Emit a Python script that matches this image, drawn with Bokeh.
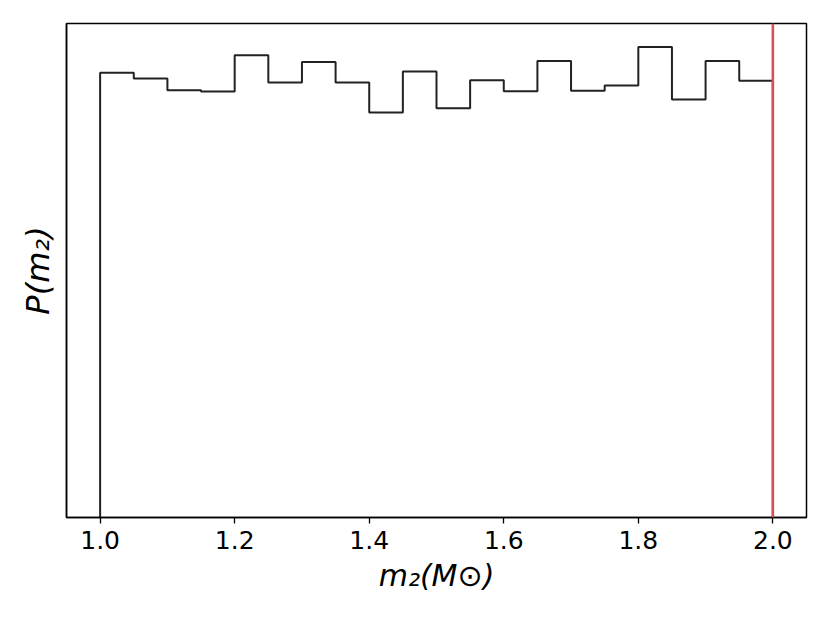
import numpy as np
from bokeh.plotting import figure
from bokeh.models import Range1d, FixedTicker, Span
from bokeh.embed import file_html
from bokeh.resources import INLINE

# Bin edges (m2 in solar masses) and normalised histogram heights
bin_edges = [1.00, 1.05, 1.10, 1.15, 1.20, 1.25, 1.30, 1.35, 1.40, 1.45, 1.50,
             1.55, 1.60, 1.65, 1.70, 1.75, 1.80, 1.85, 1.90, 1.95, 2.00]
density = [1.017, 1.004, 0.977, 0.974, 1.057, 0.995, 1.042, 0.995, 0.926, 1.020,
           0.936, 1.000, 0.975, 1.044, 0.976, 0.988, 1.076, 0.956, 1.044, 0.999]
max_mass = 2.0
x_ticks = [1.0, 1.2, 1.4, 1.6, 1.8, 2.0]

edges = np.array(bin_edges)
h = np.array(density)
xs = np.repeat(edges, 2)
ys = np.concatenate([[0.0], np.repeat(h, 2), [0.0]])

p = figure(width=814, height=607, output_backend="svg", toolbar_location=None,
           x_range=Range1d(0.95, 2.05), y_range=Range1d(0, h.max() * 1.05),
           min_border_left=66, min_border_right=8, min_border_top=23,
           min_border_bottom=90)
p.background_fill_color = "white"
p.border_fill_color = "white"
p.outline_line_color = "black"
p.outline_line_width = 1.5
p.xgrid.visible = False
p.ygrid.visible = False

p.line(xs, ys, line_color="#222222", line_width=2.0)
p.add_layout(Span(location=max_mass, dimension="height", line_color="#d6505b",
                  line_width=2.6))

font = "DejaVu Sans"
p.xaxis.ticker = FixedTicker(ticks=x_ticks)
p.xaxis.major_label_overrides = {t: f"{t:.1f}" for t in x_ticks}
p.xaxis.major_tick_out = 6
p.xaxis.major_tick_in = 0
p.xaxis.minor_tick_out = 0
p.xaxis.minor_tick_in = 0
p.xaxis.major_tick_line_width = 1.3
p.xaxis.axis_line_width = 1.5
p.xaxis.major_label_text_font = font
p.xaxis.major_label_text_font_size = "25px"
p.xaxis.major_label_text_color = "black"
p.xaxis.major_label_standoff = 7
p.xaxis.axis_label = "m\u2082(M\u2299)"
p.xaxis.axis_label_text_font = font
p.xaxis.axis_label_text_font_style = "italic"
p.xaxis.axis_label_text_font_size = "30px"
p.xaxis.axis_label_text_color = "black"
p.xaxis.axis_label_standoff = 6

p.yaxis.ticker = FixedTicker(ticks=[])
p.yaxis.major_tick_out = 0
p.yaxis.major_tick_in = 0
p.yaxis.minor_tick_out = 0
p.yaxis.minor_tick_in = 0
p.yaxis.axis_line_width = 1.5
p.yaxis.axis_label = "P(m\u2082)"
p.yaxis.axis_label_text_font = font
p.yaxis.axis_label_text_font_style = "italic"
p.yaxis.axis_label_text_font_size = "32px"
p.yaxis.axis_label_text_color = "black"
p.yaxis.axis_label_standoff = 10

open("out.html", "w").write(file_html(p, INLINE))
